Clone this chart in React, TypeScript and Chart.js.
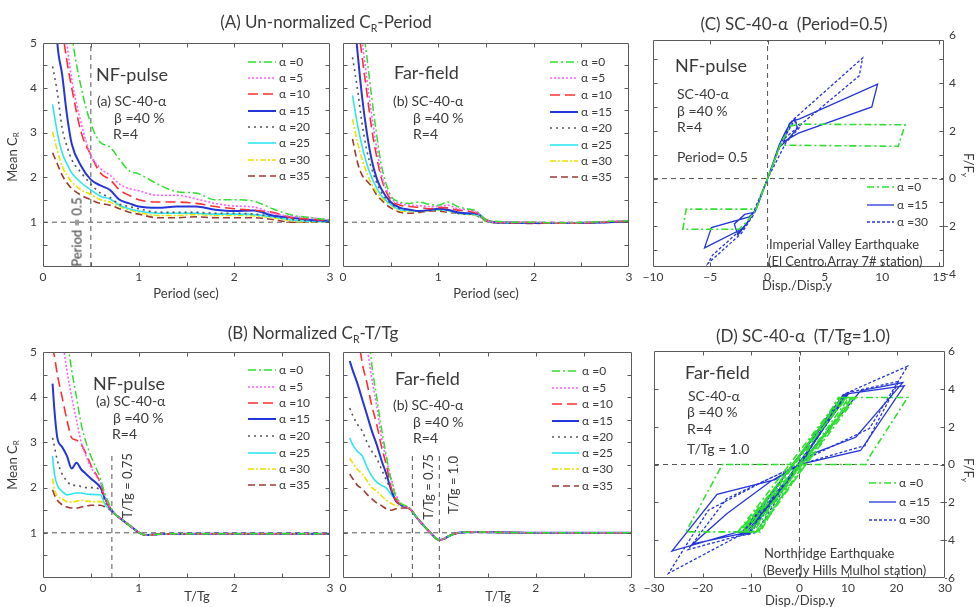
import React, { useEffect, useRef } from 'react';
import { Chart, registerables } from 'chart.js';
Chart.register(...registerables);

const FONT = 'Lato, "Open Sans", "DejaVu Sans", sans-serif';
const INK = '#3a3a3a';
const FRAME = '#5a5a5a';
const REF = '#555555';

// ---------------- legend labels ----------------
const alphaLabels = ['α =0', 'α =5', 'α =10', 'α =15', 'α =20', 'α =25', 'α =30', 'α =35'];
const hystLabels = ['α =0', 'α =15', 'α =30'];

// ---------------- (A) un-normalized CR - Period, NF-pulse ----------------
const periodNF = [0.1, 0.15, 0.2, 0.25, 0.3, 0.4, 0.5, 0.6, 0.7, 0.8, 0.9, 1.0, 1.2, 1.4, 1.6, 1.8, 2.0, 2.2, 2.4, 2.6, 2.8, 3.0];
const nfA0 = [12, 9.5, 7.5, 6.2, 5.2, 4.0, 3.2, 2.78, 2.68, 2.4, 2.15, 2.08, 1.85, 1.68, 1.65, 1.5, 1.5, 1.47, 1.3, 1.16, 1.1, 1.05];
const nfA5 = [10, 7.5, 6.0, 5.0, 4.2, 3.2, 2.5, 2.2, 2.05, 1.85, 1.75, 1.7, 1.6, 1.6, 1.52, 1.42, 1.36, 1.34, 1.2, 1.13, 1.1, 1.05];
const nfA10 = [9, 6.8, 5.4, 4.6, 4.0, 3.0, 2.5, 2.1, 1.95, 1.72, 1.6, 1.5, 1.45, 1.45, 1.42, 1.35, 1.3, 1.27, 1.22, 1.1, 1.07, 1.03];
const nfA15 = [7, 5.0, 4.3, 3.4, 2.75, 2.25, 1.95, 1.82, 1.72, 1.5, 1.42, 1.35, 1.32, 1.35, 1.35, 1.28, 1.25, 1.26, 1.15, 1.1, 1.05, 1.03];
const nfA20 = [4.48, 3.9, 3.1, 2.7, 2.4, 2.1, 1.85, 1.65, 1.55, 1.4, 1.35, 1.3, 1.22, 1.22, 1.22, 1.2, 1.2, 1.18, 1.13, 1.06, 1.03, 1.02];
const nfA25 = [3.63, 3.0, 2.55, 2.3, 2.1, 1.88, 1.72, 1.58, 1.52, 1.38, 1.3, 1.25, 1.2, 1.2, 1.2, 1.18, 1.18, 1.17, 1.12, 1.05, 1.02, 1.01];
const nfA30 = [3.02, 2.6, 2.25, 2.05, 1.9, 1.72, 1.62, 1.5, 1.45, 1.35, 1.28, 1.22, 1.15, 1.15, 1.17, 1.15, 1.15, 1.14, 1.1, 1.03, 1.01, 1.01];
const nfA35 = [2.55, 2.3, 2.05, 1.88, 1.75, 1.6, 1.5, 1.42, 1.38, 1.3, 1.22, 1.18, 1.1, 1.1, 1.12, 1.1, 1.1, 1.1, 1.06, 1.0, 1.0, 1.01];

// ---------------- (A) un-normalized CR - Period, Far-field ----------------
const periodFF = [0.1, 0.15, 0.2, 0.25, 0.3, 0.35, 0.4, 0.5, 0.6, 0.7, 0.8, 0.9, 1.0, 1.1, 1.2, 1.3, 1.4, 1.5, 1.6, 1.8, 2.0, 2.2, 2.4, 2.6, 2.8, 3.0];
const ffA0 = [9, 7.3, 5.6, 4.7, 3.8, 3.0, 2.3, 1.6, 1.45, 1.42, 1.45, 1.4, 1.38, 1.45, 1.35, 1.3, 1.25, 1.05, 1.02, 1.0, 1.0, 0.99, 0.99, 1.0, 1.02, 1.03];
const ffA5 = [8, 6.3, 5.1, 4.2, 3.4, 2.7, 2.1, 1.55, 1.42, 1.38, 1.37, 1.35, 1.35, 1.38, 1.3, 1.28, 1.22, 1.05, 1.0, 1.0, 1.0, 0.99, 0.99, 1.0, 1.02, 1.04];
const ffA10 = [7, 5.6, 4.7, 3.9, 3.1, 2.5, 2.0, 1.5, 1.38, 1.35, 1.33, 1.3, 1.33, 1.32, 1.27, 1.25, 1.2, 1.05, 1.0, 0.99, 0.99, 0.98, 0.98, 0.99, 1.01, 1.02];
const ffA15 = [6, 4.85, 3.8, 3.0, 2.4, 2.0, 1.75, 1.45, 1.32, 1.28, 1.25, 1.27, 1.3, 1.28, 1.22, 1.2, 1.2, 1.05, 1.0, 0.99, 0.98, 0.98, 0.98, 0.99, 1.0, 1.02];
const ffA20 = [4.68, 4.0, 3.2, 2.6, 2.2, 1.9, 1.68, 1.42, 1.3, 1.27, 1.25, 1.26, 1.28, 1.27, 1.2, 1.18, 1.18, 1.03, 0.99, 0.98, 0.98, 0.98, 0.98, 0.99, 1.0, 1.01];
const ffA25 = [3.83, 3.2, 2.7, 2.3, 2.0, 1.78, 1.6, 1.4, 1.28, 1.26, 1.25, 1.27, 1.28, 1.26, 1.2, 1.18, 1.17, 1.03, 0.99, 0.98, 0.98, 0.98, 0.98, 0.99, 1.0, 1.01];
const ffA30 = [3.3, 2.8, 2.4, 2.1, 1.85, 1.68, 1.55, 1.38, 1.25, 1.24, 1.24, 1.26, 1.27, 1.25, 1.2, 1.17, 1.15, 1.02, 0.99, 0.98, 0.98, 0.98, 0.98, 0.99, 1.0, 1.01];
const ffA35 = [2.86, 2.35, 2.05, 1.92, 1.8, 1.62, 1.5, 1.32, 1.22, 1.2, 1.22, 1.25, 1.25, 1.22, 1.2, 1.18, 1.15, 1.02, 0.98, 0.98, 0.97, 0.98, 0.98, 0.99, 1.0, 1.01];

// ---------------- (B) normalized CR - T/Tg, NF-pulse ----------------
const ttgNF = [0.1, 0.12, 0.15, 0.2, 0.25, 0.3, 0.35, 0.4, 0.45, 0.5, 0.6, 0.65, 0.7, 0.75, 0.8, 0.9, 1.0, 1.05, 1.1, 1.2, 1.5, 2.0, 2.5, 3.0];
const nfB0 = [8, 7.5, 6.8, 6.0, 5.3, 4.6, 4.0, 3.4, 3.0, 2.7, 2.2, 1.85, 1.6, 1.42, 1.33, 1.17, 1.01, 0.96, 0.95, 0.97, 0.98, 0.98, 0.98, 0.98];
const nfB5 = [7, 6.5, 6.0, 5.3, 4.6, 4.0, 3.5, 3.0, 2.7, 2.45, 2.1, 1.8, 1.58, 1.42, 1.33, 1.17, 1.01, 0.96, 0.95, 0.97, 0.98, 0.98, 0.98, 0.98];
const nfB10 = [5.1, 4.9, 4.5, 4.0, 3.5, 3.1, 3.05, 2.95, 2.75, 2.5, 2.1, 1.75, 1.55, 1.42, 1.33, 1.17, 1.01, 0.96, 0.95, 0.97, 0.98, 0.98, 0.98, 0.98];
const nfB15 = [4.3, 3.7, 3.1, 2.9, 2.7, 2.42, 2.55, 2.4, 2.3, 2.2, 2.0, 1.75, 1.55, 1.42, 1.33, 1.17, 1.01, 0.96, 0.95, 0.97, 0.98, 0.98, 0.98, 0.98];
const nfB20 = [3.1, 2.9, 2.6, 2.3, 2.15, 2.05, 2.05, 2.02, 2.0, 2.0, 1.95, 1.7, 1.53, 1.42, 1.33, 1.17, 1.01, 0.96, 0.95, 0.97, 0.98, 0.98, 0.98, 0.98];
const nfB25 = [2.7, 2.3, 2.05, 1.92, 1.84, 1.86, 1.88, 1.88, 1.86, 1.85, 1.84, 1.62, 1.52, 1.42, 1.33, 1.17, 1.01, 0.96, 0.95, 0.97, 0.98, 0.98, 0.98, 0.98];
const nfB30 = [2.2, 1.95, 1.82, 1.75, 1.69, 1.68, 1.7, 1.72, 1.7, 1.69, 1.69, 1.62, 1.52, 1.42, 1.33, 1.17, 1.01, 0.96, 0.95, 0.97, 0.98, 0.98, 0.98, 0.98];
const nfB35 = [1.95, 1.84, 1.72, 1.62, 1.57, 1.55, 1.55, 1.57, 1.59, 1.61, 1.61, 1.57, 1.5, 1.42, 1.33, 1.17, 1.01, 0.96, 0.95, 0.97, 0.98, 0.98, 0.98, 0.98];

// ---------------- (B) normalized CR - T/Tg, Far-field ----------------
const ttgFF = [0.07, 0.1, 0.15, 0.2, 0.25, 0.3, 0.35, 0.4, 0.45, 0.5, 0.55, 0.6, 0.65, 0.7, 0.75, 0.8, 0.9, 1.0, 1.05, 1.1, 1.2, 1.4, 1.6, 2.0, 2.5, 3.0];
const ffB0 = [9, 8.5, 7.5, 6.8, 5.8, 4.7, 4.0, 3.3, 2.7, 2.15, 1.8, 1.65, 1.6, 1.53, 1.38, 1.25, 1.02, 0.84, 0.87, 0.93, 1.0, 1.02, 1.01, 1.0, 1.0, 1.0];
const ffB5 = [8, 7.5, 6.5, 5.7, 5.1, 4.4, 3.8, 3.1, 2.62, 2.2, 1.85, 1.64, 1.58, 1.52, 1.38, 1.25, 1.02, 0.84, 0.87, 0.93, 1.0, 1.02, 1.01, 1.0, 1.0, 1.0];
const ffB10 = [7, 6.5, 5.5, 4.75, 4.3, 3.8, 3.4, 2.9, 2.5, 2.0, 1.72, 1.62, 1.57, 1.52, 1.38, 1.25, 1.02, 0.84, 0.87, 0.93, 1.0, 1.02, 1.01, 1.0, 1.0, 1.0];
const ffB15 = [4.8, 4.6, 4.3, 3.95, 3.6, 3.25, 2.95, 2.6, 2.3, 1.95, 1.7, 1.62, 1.57, 1.52, 1.38, 1.25, 1.02, 0.84, 0.87, 0.93, 1.0, 1.02, 1.01, 1.0, 1.0, 1.0];
const ffB20 = [3.76, 3.6, 3.4, 3.25, 3.0, 2.8, 2.65, 2.4, 2.17, 1.95, 1.75, 1.62, 1.57, 1.52, 1.38, 1.25, 1.02, 0.84, 0.87, 0.93, 1.0, 1.02, 1.01, 1.0, 1.0, 1.0];
const ffB25 = [3.1, 2.95, 2.8, 2.7, 2.45, 2.25, 2.12, 2.05, 1.99, 1.85, 1.73, 1.62, 1.58, 1.52, 1.38, 1.25, 1.02, 0.84, 0.87, 0.93, 1.0, 1.02, 1.01, 1.0, 1.0, 1.0];
const ffB30 = [2.65, 2.55, 2.4, 2.3, 2.15, 2.0, 1.92, 1.82, 1.72, 1.65, 1.6, 1.6, 1.57, 1.52, 1.38, 1.25, 1.02, 0.84, 0.87, 0.93, 1.0, 1.02, 1.01, 1.0, 1.0, 1.0];
const ffB35 = [2.3, 2.2, 2.05, 1.97, 1.85, 1.75, 1.66, 1.6, 1.53, 1.5, 1.53, 1.55, 1.55, 1.52, 1.38, 1.25, 1.02, 0.84, 0.87, 0.93, 1.0, 1.02, 1.01, 1.0, 1.0, 1.0];

// ---------------- reference marks ----------------
const unitCR = 1;
const periodMark = 0.5;
const ttgMarksNF = [0.72];
const ttgMarksFF = [0.72, 1.0];
const ttgMarkTop = 2.72;

// ---------------- (C) hysteresis, NF-pulse, Period = 0.5 ----------------
const cDisp0 = [0, 1.1, 11.4, 12.0, 2.8, 2.0, 1.1, 0, -1.0, -7.1, -7.4, -2.5, -1.8, -1.0, 0];
const cForce0 = [0, 1.4, 1.35, 2.25, 2.28, 2.2, 1.4, 0, -1.28, -1.28, -2.12, -2.12, -1.8, -1.28, 0];
const cDisp15 = [0, 1.0, 1.6, 2.1, 2.8, 9.6, 9.1, 2.7, 1.4, 1.9, 2.4, 2.6, 1.7, 1.0, 0, -1.0, -1.6, -4.9, -5.5, -2.2, -1.6, -2.6, -2.9, -2.0, -1.1, 0];
const cForce15 = [0, 1.4, 2.0, 2.4, 2.5, 3.95, 3.0, 1.9, 1.55, 2.3, 2.5, 2.1, 1.6, 1.3, 0, -1.3, -1.6, -2.05, -2.9, -2.1, -1.75, -2.35, -1.9, -1.5, -1.4, 0];
const cDisp30 = [0, 1.2, 2.2, 8.3, 8.0, 3.0, 1.4, 2.3, 2.9, 1.6, 0, -1.2, -2.3, -5.2, -4.8, -2.0, -2.6, -1.4, 0];
const cForce30 = [0, 1.5, 2.45, 5.05, 4.3, 2.3, 1.65, 2.4, 2.2, 1.5, 0, -1.5, -2.3, -3.55, -3.2, -2.0, -2.35, -1.6, 0];

// ---------------- (D) hysteresis, Far-field, T/Tg = 1.0 ----------------
const dDisp0 = [0, 8.0, 22.3, 14.4, 13.7, 0, -8.1, -23.4, -15.9, 0, -12.7, 8.5, 11.6, -9.0, -11.5, 9.5, 10.8, -10.0, -12.0, 9.0, 11.0, -8.5, -10.8, 8.2, 10.2, -9.5, -11.8, 8.8, 10.6, -8.8, -12.4, 9.8, 11.3, -10.3, -11.2, 0];
const dForce0 = [0, 3.54, 3.54, 0.4, 0, 0, -3.56, -3.56, 0, 0, -3.56, 3.54, 3.54, -3.56, -3.56, 3.54, 3.54, -3.56, -3.56, 3.54, 3.54, -3.56, -3.56, 3.54, 3.54, -3.56, -3.56, 3.54, 3.54, -3.56, -3.56, 3.54, 3.54, -3.56, -3.56, 0];
const dDisp15 = [0, 9.4, 21.6, 12.6, 0, 12.6, 21.3, 11.6, 3.0, 0, -5.0, -17.0, -26.3, -12.7, -10.5, 0, -11.0, -22.0, -15.0, -6.0, 0, -11.5, 8.8, 10.0, -10.5, -12.2, 9.8, 0];
const dForce15 = [0, 3.72, 4.16, 0.74, 0, 3.9, 4.33, 1.44, 0.6, 0, -0.8, -1.58, -4.58, -3.56, -3.7, 0, -3.6, -4.2, -2.6, -0.9, 0, -3.6, 3.6, 3.7, -3.6, -3.7, 3.75, 0];
const dDisp30 = [0, 9.0, 22.3, 14.4, 3.0, 0, 10.0, 20.5, 13.5, 0, -7.0, -18.8, -27.0, -12.7, -9.0, 0, -10.0, -23.0, -15.0, 0, -12.0, 9.2, 0];
const dForce30 = [0, 3.7, 5.2, 1.9, 0.5, 0, 3.8, 4.4, 1.0, 0, -0.84, -2.42, -5.75, -3.8, -3.6, 0, -3.6, -4.5, -1.8, 0, -3.7, 3.7, 0];

// ---------------- styles ----------------
const alphaStyles = [
  { color: '#2fe02f', dash: [8, 3, 2, 3], width: 1.5 },
  { color: '#ff5cff', dash: [2, 2], width: 1.6 },
  { color: '#ff2f2f', dash: [10, 5], width: 1.6 },
  { color: '#2436d8', dash: [], width: 2 },
  { color: '#555555', dash: [2, 4], width: 1.6 },
  { color: '#2ee6f2', dash: [], width: 1.6 },
  { color: '#f0e000', dash: [6, 2, 2, 2], width: 1.6 },
  { color: '#9e3a33', dash: [7, 4], width: 1.6 },
];
const hystStyles = [
  { color: '#2fe02f', dash: [7, 3, 2, 3], width: 1.6 },
  { color: '#2436d8', dash: [], width: 1.3 },
  { color: '#2436d8', dash: [3, 2], width: 1.3 },
];

const fmt = (v: number) => (v < 0 ? '\u2212' + Math.abs(v) : String(v));
const isInt = (v: number) => Math.abs(v - Math.round(v)) < 1e-6;

function curveSets(xs: number[], series: number[][]) {
  return series.map((ys, i) => ({
    label: alphaLabels[i],
    data: xs.map((x, j) => ({ x, y: ys[j] })),
    borderColor: alphaStyles[i].color,
    borderDash: alphaStyles[i].dash,
    borderWidth: alphaStyles[i].width,
    pointRadius: 0,
    fill: false,
    cubicInterpolationMode: 'monotone',
  }));
}
function hystSets(pairs: [number[], number[]][]) {
  return pairs.map(([xs, ys], i) => ({
    label: hystLabels[i],
    data: xs.map((x, j) => ({ x, y: ys[j] })),
    borderColor: hystStyles[i].color,
    borderDash: hystStyles[i].dash,
    borderWidth: hystStyles[i].width,
    pointRadius: 0,
    fill: false,
    tension: 0,
  }));
}
function refSet(pts: { x: number; y: number }[]) {
  return { label: '', data: pts, borderColor: REF, borderDash: [5, 4], borderWidth: 1, pointRadius: 0, fill: false, tension: 0 };
}

const framePlugin = {
  id: 'frame',
  afterDatasetsDraw(chart: any, _a: any, opts: any) {
    const { ctx, chartArea: a } = chart;
    const sx = chart.scales.x, sy = chart.scales.y;
    ctx.save();
    ctx.strokeStyle = FRAME;
    ctx.lineWidth = 1;
    ctx.setLineDash([]);
    const L = Math.round(a.left) + 0.5, R = Math.round(a.right) - 0.5, T = Math.round(a.top) + 0.5, B = Math.round(a.bottom) - 0.5;
    ctx.beginPath();
    ctx.rect(L, T, R - L, B - T);
    const len = 4;
    sx.ticks.forEach((t: any) => {
      if (t.value <= sx.min + 1e-9 || t.value >= sx.max - 1e-9) return;
      const p = Math.round(sx.getPixelForValue(t.value)) + 0.5;
      ctx.moveTo(p, B); ctx.lineTo(p, B - len);
      ctx.moveTo(p, T); ctx.lineTo(p, T + len);
    });
    sy.ticks.forEach((t: any) => {
      if (t.value <= sy.min + 1e-9 || t.value >= sy.max - 1e-9) return;
      const p = Math.round(sy.getPixelForValue(t.value)) + 0.5;
      ctx.moveTo(L, p); ctx.lineTo(L + len, p);
      ctx.moveTo(R, p); ctx.lineTo(R - len, p);
    });
    ctx.stroke();
    const lg = opts && opts.legend;
    if (lg) {
      ctx.font = `12px ${FONT}`;
      ctx.textBaseline = 'middle';
      ctx.textAlign = 'left';
      ctx.fillStyle = INK;
      let k = 0;
      chart.data.datasets.forEach((ds: any) => {
        if (!ds.label) return;
        const y = lg.ys[k++] - lg.oy;
        ctx.strokeStyle = ds.borderColor;
        ctx.lineWidth = ds.borderWidth;
        ctx.setLineDash(ds.borderDash || []);
        ctx.beginPath();
        ctx.moveTo(lg.x0 - lg.ox, y);
        ctx.lineTo(lg.x1 - lg.ox, y);
        ctx.stroke();
        ctx.setLineDash([]);
        ctx.fillText(ds.label, lg.tx - lg.ox, y);
      });
    }
    ctx.restore();
  },
};

type Rect = { x: number; y: number; w: number; h: number };
type Area = { l: number; t: number; r: number; b: number };
type AxisSpec = { min: number; max: number; step: number; show: (v: number) => boolean; list?: number[] };
type Spec = {
  rect: Rect; area: Area; yPos: 'left' | 'right'; yW?: number; x: AxisSpec; y: AxisSpec; datasets: any[];
  legend?: { x0: number; x1: number; tx: number; ys: number[] };
};

function makeAxis(a: AxisSpec, position: string, size: number, horizontal: boolean) {
  const ax: any = {
    type: 'linear', position, min: a.min, max: a.max,
    grid: { display: false, drawTicks: false },
    border: { display: false },
    title: { display: false },
    ticks: {
      stepSize: a.step, autoSkip: false, includeBounds: false, maxRotation: 0, minRotation: 0,
      padding: position === 'left' ? 6 : 3,
      crossAlign: position === 'right' ? 'far' : 'near',
      color: INK, font: { family: FONT, size: 12 },
      callback: (v: any) => (a.show(Number(v)) ? fmt(Number(v)) : ''),
    },
    afterFit: (s: any) => {
      if (horizontal) s.height = size; else s.width = size;
      s.paddingLeft = 0; s.paddingRight = 0; s.paddingTop = 0; s.paddingBottom = 0;
    },
  };
  if (a.list) {
    const list = a.list;
    ax.afterBuildTicks = (s: any) => { s.ticks = list.map((v) => ({ value: v })); };
  }
  return ax;
}

function buildConfig(p: Spec) {
  const { rect, area } = p;
  const left = p.yPos === 'left';
  const yW = left ? area.l - rect.x : (p.yW as number);
  const xH = rect.y + rect.h - area.b;
  const padding = {
    left: left ? 0 : area.l - rect.x,
    right: left ? rect.x + rect.w - area.r : rect.x + rect.w - area.r - yW,
    top: area.t - rect.y,
    bottom: 0,
  };
  return {
    type: 'line',
    data: { datasets: p.datasets },
    plugins: [framePlugin],
    options: {
      responsive: false, animation: false, devicePixelRatio: 1, events: [],
      layout: { padding },
      scales: { x: makeAxis(p.x, 'bottom', xH, true), y: makeAxis(p.y, p.yPos, yW, false) },
      plugins: {
        legend: { display: false }, tooltip: { enabled: false },
        frame: p.legend ? { legend: { ...p.legend, ox: rect.x, oy: rect.y } } : {},
      },
    },
  } as any;
}

// ---------------- panel specs ----------------
const crAxisY: AxisSpec = { min: 0, max: 5, step: 0.5, show: (v) => isInt(v) && v > 0 };
const crAxisYBlank: AxisSpec = { min: 0, max: 5, step: 0.5, show: () => false };
const crAxisX: AxisSpec = { min: 0, max: 3, step: 0.5, show: (v) => isInt(v) };

const specs: Spec[] = [
  {
    rect: { x: 0, y: 30, w: 340, h: 270 }, area: { l: 43, t: 43, r: 330, b: 267 }, yPos: 'left',
    x: crAxisX, y: crAxisY,
    datasets: [
      ...curveSets(periodNF, [nfA0, nfA5, nfA10, nfA15, nfA20, nfA25, nfA30, nfA35]),
      refSet([{ x: 0, y: unitCR }, { x: 3, y: unitCR }]),
      refSet([{ x: periodMark, y: 0 }, { x: periodMark, y: 5 }]),
    ],
    legend: { x0: 248, x1: 276, tx: 279, ys: [62, 78, 94, 111, 127, 143, 160, 176] },
  },
  {
    rect: { x: 335, y: 30, w: 305, h: 270 }, area: { l: 343, t: 43, r: 629, b: 267 }, yPos: 'left',
    x: crAxisX, y: crAxisYBlank,
    datasets: [
      ...curveSets(periodFF, [ffA0, ffA5, ffA10, ffA15, ffA20, ffA25, ffA30, ffA35]),
      refSet([{ x: 0, y: unitCR }, { x: 3, y: unitCR }]),
    ],
    legend: { x0: 550, x1: 578, tx: 581, ys: [62, 78, 95, 112, 128, 145, 161, 177] },
  },
  {
    rect: { x: 630, y: 30, w: 347, h: 270 }, area: { l: 653, t: 40, r: 944, b: 267 }, yPos: 'right', yW: 12,
    x: { min: -10, max: 15.4, step: 5, show: () => true },
    y: { min: -3.7, max: 5.8, step: 1, show: (v) => v % 2 === 0, list: [-4, -3, -2, -1, 0, 1, 2, 3, 4, 5, 6] },
    datasets: [
      ...hystSets([[cDisp0, cForce0], [cDisp15, cForce15], [cDisp30, cForce30]]),
      refSet([{ x: -10, y: 0 }, { x: 15.4, y: 0 }]),
      refSet([{ x: 0, y: -3.7 }, { x: 0, y: 5.8 }]),
    ],
    legend: { x0: 867, x1: 894, tx: 897, ys: [187, 205, 222] },
  },
  {
    rect: { x: 0, y: 340, w: 340, h: 267 }, area: { l: 43, t: 352, r: 330, b: 578 }, yPos: 'left',
    x: crAxisX, y: crAxisY,
    datasets: [
      ...curveSets(ttgNF, [nfB0, nfB5, nfB10, nfB15, nfB20, nfB25, nfB30, nfB35]),
      refSet([{ x: 0, y: unitCR }, { x: 3, y: unitCR }]),
      ...ttgMarksNF.map((m) => refSet([{ x: m, y: 0 }, { x: m, y: ttgMarkTop }])),
    ],
    legend: { x0: 248, x1: 276, tx: 279, ys: [370, 387, 403, 419, 436, 453, 469, 485] },
  },
  {
    rect: { x: 335, y: 340, w: 305, h: 267 }, area: { l: 343, t: 352, r: 632, b: 578 }, yPos: 'left',
    x: crAxisX, y: crAxisYBlank,
    datasets: [
      ...curveSets(ttgFF, [ffB0, ffB5, ffB10, ffB15, ffB20, ffB25, ffB30, ffB35]),
      refSet([{ x: 0, y: unitCR }, { x: 3, y: unitCR }]),
      ...ttgMarksFF.map((m) => refSet([{ x: m, y: 0 }, { x: m, y: ttgMarkTop }])),
    ],
    legend: { x0: 552, x1: 579, tx: 582, ys: [371, 388, 404, 421, 437, 453, 469, 486] },
  },
  {
    rect: { x: 630, y: 340, w: 347, h: 267 }, area: { l: 654, t: 351, r: 945, b: 578 }, yPos: 'right', yW: 10,
    x: { min: -30, max: 30, step: 10, show: () => true },
    y: { min: -6, max: 6, step: 2, show: () => true },
    datasets: [
      ...hystSets([[dDisp0, dForce0], [dDisp15, dForce15], [dDisp30, dForce30]]),
      refSet([{ x: -30, y: 0 }, { x: 30, y: 0 }]),
      refSet([{ x: 0, y: -6 }, { x: 0, y: 6 }]),
    ],
    legend: { x0: 869, x1: 896, tx: 899, ys: [483, 502, 520] },
  },
];

function Panel({ spec }: { spec: Spec }) {
  const ref = useRef<HTMLCanvasElement>(null);
  useEffect(() => {
    const chart = new Chart(ref.current as HTMLCanvasElement, buildConfig(spec));
    return () => chart.destroy();
  }, [spec]);
  const r = spec.rect;
  return (
    <canvas ref={ref} width={r.w} height={r.h}
      style={{ position: 'absolute', left: r.x, top: r.y, width: r.w, height: r.h, display: 'block' }} />
  );
}

function T({ x, y, s = 14, rot = 0, center = false, children }: any) {
  return (
    <div style={{
      position: 'absolute', left: x, top: y, fontFamily: FONT, fontSize: s, color: INK,
      whiteSpace: 'nowrap', lineHeight: 1,
      transform: center ? `translate(-50%, -50%) rotate(${rot}deg)` : 'translateY(-50%)',
    }}>{children}</div>
  );
}
const Sub = ({ children }: any) => <span style={{ fontSize: '0.62em', verticalAlign: '-0.35em' }}>{children}</span>;

export default function App() {
  return (
    <div style={{ position: 'absolute', left: 0, top: 0, width: 977, height: 607, background: '#fff', overflow: 'hidden' }}>
      {specs.map((s, i) => <Panel key={i} spec={s} />)}

      {/* titles */}
      <T x={326} y={23} s={17} center>(A) Un-normalized C<Sub>R</Sub>-Period</T>
      <T x={794} y={23} s={17} center>(C) SC-40-α&nbsp; (Period=0.5)</T>
      <T x={313} y={334} s={17} center>(B) Normalized C<Sub>R</Sub>-T/Tg</T>
      <T x={803} y={335} s={17} center>(D) SC-40-α&nbsp; (T/Tg=1.0)</T>

      {/* axis titles */}
      <T x={13} y={157} s={13} rot={-90} center>Mean C<Sub>R</Sub></T>
      <T x={13} y={465} s={13} rot={-90} center>Mean C<Sub>R</Sub></T>
      <T x={186} y={293} s={13} center>Period (sec)</T>
      <T x={486} y={293} s={13} center>Period (sec)</T>
      <T x={197} y={596} s={13} center>T/Tg</T>
      <T x={498} y={596} s={13} center>T/Tg</T>
      <T x={797} y={285} s={13} center>Disp./Disp.y</T>
      <T x={800} y={600} s={13} center>Disp./Disp.y</T>
      <T x={968} y={165} s={13} rot={90} center>F/F<Sub>y</Sub></T>
      <T x={968} y={470} s={13} rot={90} center>F/F<Sub>y</Sub></T>

      {/* A-left annotations */}
      <T x={96} y={74} s={18}>NF-pulse</T>
      <T x={97} y={101} s={14}>(a) SC-40-α</T>
      <T x={114} y={118} s={14}>β =40 %</T>
      <T x={113} y={134} s={14}>R=4</T>
      <T x={77} y={232} s={13} rot={-90} center>Period = 0.5</T>

      {/* A-right annotations */}
      <T x={394} y={72} s={18}>Far-field</T>
      <T x={393} y={101} s={14}>(b) SC-40-α</T>
      <T x={413} y={118} s={14}>β =40 %</T>
      <T x={413} y={134} s={14}>R=4</T>

      {/* C annotations */}
      <T x={675} y={65} s={18}>NF-pulse</T>
      <T x={677} y={94} s={14}>SC-40-α</T>
      <T x={677} y={111} s={14}>β =40 %</T>
      <T x={677} y={127} s={14}>R=4</T>
      <T x={677} y={157} s={14}>Period= 0.5</T>
      <T x={769} y={244} s={13}>Imperial Valley Earthquake</T>
      <T x={768} y={261} s={13}>(El Centro Array 7# station)</T>

      {/* B-left annotations */}
      <T x={93} y={383} s={18}>NF-pulse</T>
      <T x={96} y={401} s={14}>(a) SC-40-α</T>
      <T x={113} y={418} s={14}>β =40 %</T>
      <T x={112} y={434} s={14}>R=4</T>
      <T x={127} y={486} s={13} rot={-90} center>T/Tg = 0.75</T>

      {/* B-right annotations */}
      <T x={395} y={378} s={18}>Far-field</T>
      <T x={393} y={405} s={14}>(b) SC-40-α</T>
      <T x={413} y={422} s={14}>β =40 %</T>
      <T x={413} y={438} s={14}>R=4</T>
      <T x={428} y={487} s={13} rot={-90} center>T/Tg = 0.75</T>
      <T x={453} y={485} s={13} rot={-90} center>T/Tg = 1.0</T>

      {/* D annotations */}
      <T x={685} y={372} s={18}>Far-field</T>
      <T x={688} y={396} s={14}>SC-40-α</T>
      <T x={687} y={412} s={14}>β =40 %</T>
      <T x={687} y={429} s={14}>R=4</T>
      <T x={687} y={449} s={14}>T/Tg = 1.0</T>
      <T x={764} y={553} s={13}>Northridge Earthquake</T>
      <T x={763} y={570} s={13}>(Beverly Hills Mulhol station)</T>
    </div>
  );
}
